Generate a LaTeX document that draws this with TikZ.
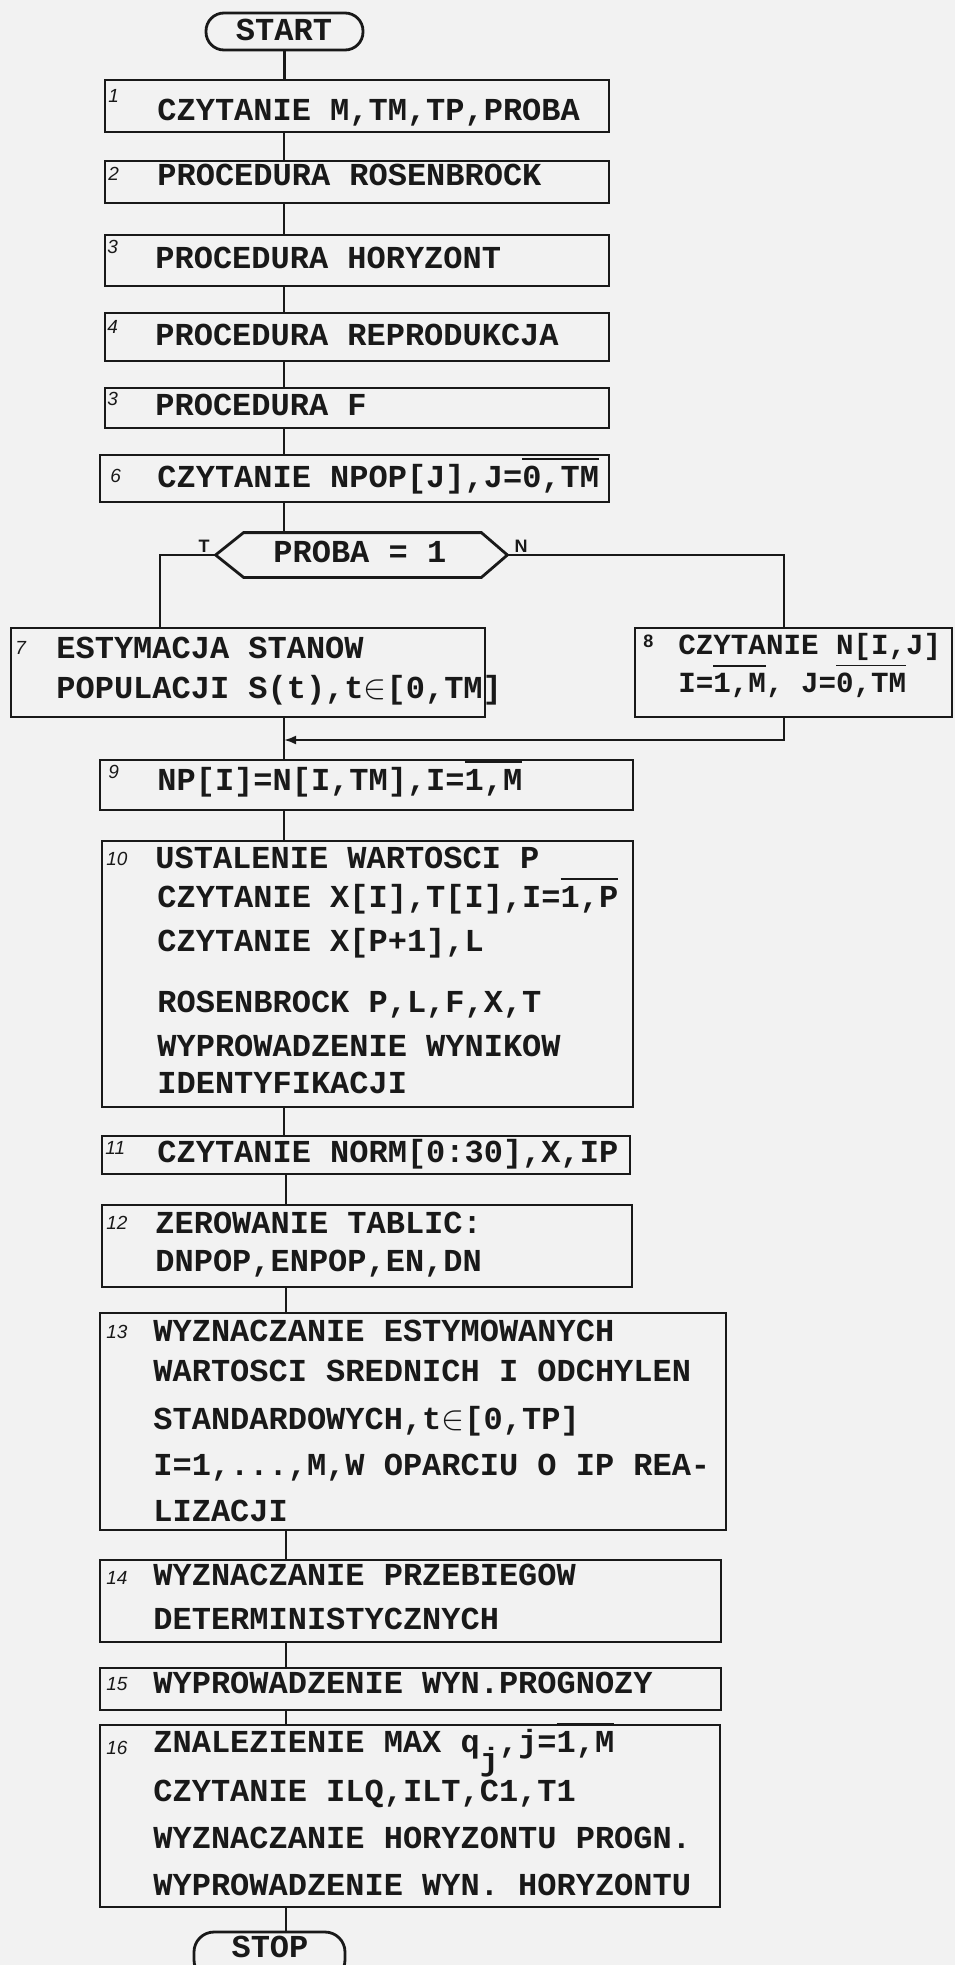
\documentclass[tikz,border=0pt]{standalone}
\usepackage{fontspec}
\setmainfont{Liberation Mono}
\newfontfamily\numfont{Liberation Sans}
\usetikzlibrary{fit,arrows.meta}
\definecolor{paper}{gray}{0.95}
\definecolor{ink}{gray}{0.1}
\newcommand\ovl[1]{\leavevmode\vbox{\hrule height 0.9pt\kern 3pt\hbox{#1}}}
\tikzset{
  boxline/.style={draw=ink, line width=1.4pt},
  box/.style={boxline, inner sep=0pt, rectangle},
  conn/.style={draw=ink, line width=1.1pt},
  txt/.style={anchor=base west, inner sep=0pt, font=\bfseries\fontsize{16}{19}\selectfont, text=ink},
  smalltxt/.style={txt, font=\bfseries\fontsize{14.6}{17}\selectfont},
  num/.style={anchor=north west, inner sep=0pt, font=\numfont\itshape\fontsize{9.5}{10}\selectfont, text=ink},
  lbl/.style={inner sep=0pt, font=\numfont\bfseries\fontsize{9}{10}\selectfont, text=ink},
}
\begin{document}
\begin{tikzpicture}[x=0.5pt,y=-0.5pt]
\fill[paper] (0,0) rectangle (955,1965);
\useasboundingbox (0,0) rectangle (955,1965);
\clip (0,0) rectangle (955,1965);
\coordinate (spine) at (284,0);
\coordinate (spinetwo) at (286,0);
\coordinate (lx) at (160,0);
\coordinate (rx) at (784,0);
\coordinate (mrg) at (784,740);
% terminals
\node[box, rounded corners=9pt, fit={(206,13)(363,50)}] (start) {};
\node[txt, anchor=base] (starttxt) at (284,40) {START};
% boxes
\node[box, fit={(105,80)(609,132)}] (b1) {};
\node[box, fit={(105,161)(609,203)}] (b2) {};
\node[box, fit={(105,235)(609,286)}] (b3) {};
\node[box, fit={(105,313)(609,361)}] (b4) {};
\node[box, fit={(105,388)(609,428)}] (b5) {};
\node[box, fit={(100,455)(609,502)}] (b6) {};
\node[inner sep=0pt, fit={(216,533)(507,577)}] (dec) {};
\draw[boxline] (dec.west) -- ([xshift=14pt]dec.north west) -- ([xshift=-13pt]dec.north east) -- (dec.east) -- ([xshift=-13pt]dec.south east) -- ([xshift=14pt]dec.south west) -- cycle;
\node[box, fit={(11,628)(485,717)}] (b7) {};
\node[box, fit={(635,628)(952,717)}] (b8) {};
\node[box, fit={(100,760)(633,810)}] (b9) {};
\node[box, fit={(102,841)(633,1107)}] (b10) {};
\node[box, fit={(102,1136)(630,1174)}] (b11) {};
\node[box, fit={(102,1205)(632,1287)}] (b12) {};
\node[box, fit={(100,1313)(726,1530)}] (b13) {};
\node[box, fit={(100,1560)(721,1642)}] (b14) {};
\node[box, fit={(100,1668)(721,1710)}] (b15) {};
\node[box, fit={(100,1725)(720,1907)}] (b16) {};
\node[box, rounded corners=10pt, fit={(194,1932)(345,1980)}] (stop) {};
\node[txt, anchor=base] (stoptxt) at (270,1957) {STOP};
% numbers
\node[num] (n1) at (108,89) {1};
\node[num] (n2) at (108,167) {2};
\node[num] (n3) at (107,240) {3};
\node[num] (n4) at (107,320) {4};
\node[num] (n5) at (107,392) {3};
\node[num] (n6) at (110,469) {6};
\node[num] (n7) at (15,641) {7};
\node[lbl, anchor=north west] (n8) at (643,635) {8};
\node[num] (n9) at (108,765) {9};
\node[num] (n10) at (106,852) {10};
\node[num] (n11) at (105,1141) {11};
\node[num] (n12) at (106,1216) {12};
\node[num] (n13) at (106,1325) {13};
\node[num] (n14) at (106,1571) {14};
\node[num] (n15) at (106,1677) {15};
\node[num] (n16) at (106,1741) {16};
% texts
\node[txt] (t1) at (157,120) {CZYTANIE M,TM,TP,PROBA};
\node[txt] (t2) at (157,185) {PROCEDURA ROSENBROCK};
\node[txt] (t3) at (155,268) {PROCEDURA HORYZONT};
\node[txt] (t4) at (155,345) {PROCEDURA REPRODUKCJA};
\node[txt] (t5) at (155,415) {PROCEDURA F};
\node[txt] (t6) at (157,487) {CZYTANIE NPOP[J],J=\ovl{0,TM}};
\node[txt] (tdec) at (273,562) {PROBA = 1};
\node[lbl] (lt) at (204,546) {T};
\node[lbl] (ln) at (521,546) {N};
\node[txt] (t7a) at (56,658) {ESTYMACJA STANOW};
\node[txt] (t7b) at (56,698) {POPULACJI S(t),t$\in$[0,TM]};
\node[smalltxt] (t8a) at (678,654) {CZYTANIE N[I,J]};
\node[smalltxt] (t8b) at (678,692) {I=\ovl{1,M}, J=\ovl{0,TM}};
\node[txt] (t9) at (157,790) {NP[I]=N[I,TM],I=\ovl{1,M}};
\node[txt] (t10a) at (155,868) {USTALENIE WARTOSCI P};
\node[txt] (t10b) at (157,907) {CZYTANIE X[I],T[I],I=\ovl{1,P}};
\node[txt] (t10c) at (157,951) {CZYTANIE X[P+1],L};
\node[txt] (t10d) at (157,1012) {ROSENBROCK P,L,F,X,T};
\node[txt] (t10e) at (157,1056) {WYPROWADZENIE WYNIKOW};
\node[txt] (t10f) at (157,1093) {IDENTYFIKACJI};
\node[txt] (t11) at (157,1162) {CZYTANIE NORM[0:30],X,IP};
\node[txt] (t12a) at (155,1233) {ZEROWANIE TABLIC:};
\node[txt] (t12b) at (155,1271) {DNPOP,ENPOP,EN,DN};
\node[txt] (t13a) at (153,1341) {WYZNACZANIE ESTYMOWANYCH};
\node[txt] (t13b) at (153,1381) {WARTOSCI SREDNICH I ODCHYLEN};
\node[txt] (t13c) at (153,1429) {STANDARDOWYCH,t$\in$[0,TP]};
\node[txt] (t13d) at (153,1475) {I=1,...,M,W OPARCIU O IP REA-};
\node[txt] (t13e) at (153,1521) {LIZACJI};
\node[txt] (t14a) at (153,1585) {WYZNACZANIE PRZEBIEGOW};
\node[txt] (t14b) at (153,1629) {DETERMINISTYCZNYCH};
\node[txt] (t15) at (153,1693) {WYPROWADZENIE WYN.PROGNOZY};
\node[txt] (t16a) at (153,1752) {ZNALEZIENIE MAX q\raisebox{-9pt}{j},j=\ovl{1,M}};
\node[txt] (t16b) at (153,1801) {CZYTANIE ILQ,ILT,C1,T1};
\node[txt] (t16c) at (153,1848) {WYZNACZANIE HORYZONTU PROGN.};
\node[txt] (t16d) at (153,1895) {WYPROWADZENIE WYN. HORYZONTU};
% connectors
\draw[conn] (start.south) -- (start.south |- b1.north);
\draw[conn] (spine |- b1.south) -- (spine |- b2.north);
\draw[conn] (spine |- b2.south) -- (spine |- b3.north);
\draw[conn] (spine |- b3.south) -- (spine |- b4.north);
\draw[conn] (spine |- b4.south) -- (spine |- b5.north);
\draw[conn] (spine |- b5.south) -- (spine |- b6.north);
\draw[conn] (spine |- b6.south) -- (spine |- dec.north);
\draw[conn] (dec.west) -| (lx |- b7.north);
\draw[conn] (dec.east) -| (rx |- b8.north);
\draw[conn] (spine |- b7.south) -- (spine |- b9.north);
\draw[conn, -{Latex[length=6pt,width=4.5pt]}] (rx |- b8.south) |- (spine |- mrg);
\draw[conn] (spine |- b9.south) -- (spine |- b10.north);
\draw[conn] (spine |- b10.south) -- (spine |- b11.north);
\draw[conn] (spinetwo |- b11.south) -- (spinetwo |- b12.north);
\draw[conn] (spinetwo |- b12.south) -- (spinetwo |- b13.north);
\draw[conn] (spinetwo |- b13.south) -- (spinetwo |- b14.north);
\draw[conn] (spinetwo |- b14.south) -- (spinetwo |- b15.north);
\draw[conn] (spinetwo |- b15.south) -- (spinetwo |- b16.north);
\draw[conn] (spinetwo |- b16.south) -- (spinetwo |- stop.north);
\end{tikzpicture}
\end{document}
